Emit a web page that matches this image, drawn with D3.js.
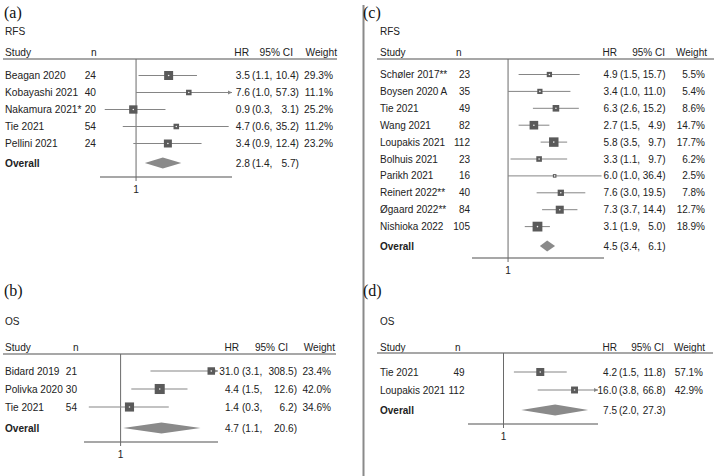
<!DOCTYPE html>
<html><head><meta charset="utf-8">
<script src="https://cdn.jsdelivr.net/npm/d3@7"></script>
<style>body{margin:0;background:#fff}svg{display:block}</style>
</head><body>
<svg id="c" width="714" height="476"></svg>
<script>
// ---------- DATA ----------
const studiesA = ["Beagan 2020","Kobayashi 2021","Nakamura 2021*","Tie 2021","Pellini 2021"];
const nA  = [24,40,20,54,24];
const hrA = [3.5,7.6,0.9,4.7,3.4];
const loA = [1.1,1.0,0.3,0.6,0.9];
const hiA = [10.4,57.3,3.1,35.2,12.4];
const wA  = [29.3,11.1,25.2,11.2,23.2];
const overallA = [2.8,1.4,5.7];

const studiesB = ["Bidard 2019","Polivka 2020","Tie 2021"];
const nB  = [21,30,54];
const hrB = [31.0,4.4,1.4];
const loB = [3.1,1.5,0.3];
const hiB = [308.5,12.6,6.2];
const wB  = [23.4,42.0,34.6];
const overallB = [4.7,1.1,20.6];

const studiesC = ["Schøler 2017**","Boysen 2020 A","Tie 2021","Wang 2021","Loupakis 2021","Bolhuis 2021","Parikh 2021","Reinert 2022**","Øgaard 2022**","Nishioka 2022"];
const nC  = [23,35,49,82,112,23,16,40,84,105];
const hrC = [4.9,3.4,6.3,2.7,5.8,3.3,6.0,7.6,7.3,3.1];
const loC = [1.5,1.0,2.6,1.5,3.5,1.1,1.0,3.0,3.7,1.9];
const hiC = [15.7,11.0,15.2,4.9,9.7,9.7,36.4,19.5,14.4,5.0];
const wC  = [5.5,5.4,8.6,14.7,17.7,6.2,2.5,7.8,12.7,18.9];
const overallC = [4.5,3.4,6.1];

const studiesD = ["Tie 2021","Loupakis 2021"];
const nD  = [49,112];
const hrD = [4.2,16.0];
const loD = [1.5,3.8];
const hiD = [11.8,66.8];
const wD  = [57.1,42.9];
const overallD = [7.5,2.0,27.3];

const panelLabels = ["(a)","(b)","(c)","(d)"];
const outcomes = ["RFS","OS","RFS","OS"];
const headers = ["Study","n","HR","95% CI","Weight"];
const tickValues = [1];
const xDomain = [0.25, 40];

// ---------- LAYOUT ----------
const panels = [
  {data:[studiesA,nA,hrA,loA,hiA,wA,overallA], fs:10.2, labY:12, outY:31, hdrY:52, lineY:59, rowY0:75.5, rowDy:17, ovY:163, axY:177,
   x0:100, W:132, studyX:5, nHdrX:91, nR:96, hrR:250, loL:252, hiR:299, wR:333, hHR:249, hCI:293, hW:337, ulL:3, ulR:337, k:1.66, labX:4},
  {data:[studiesB,nB,hrB,loB,hiB,wB,overallB], fs:10.1, labY:290, outY:321, hdrY:347, lineY:354, rowY0:371, rowDy:18, ovY:428, axY:442,
   x0:84, W:134, studyX:5, nHdrX:73, nR:77, hrR:239, loL:242, hiR:297, wR:331, hHR:239, hCI:288, hW:335, ulL:3, ulR:336, k:1.55, labX:4},
  {data:[studiesC,nC,hrC,loC,hiC,wC,overallC], fs:10, labY:12, outY:31, hdrY:52, lineY:59, rowY0:74.5, rowDy:16.9, ovY:246, axY:258,
   x0:472, W:132, studyX:380, nHdrX:456, nR:470, hrR:617.5, loL:620, hiR:665.5, wR:705, hHR:617, hCI:665, hW:707, ulL:377, ulR:714, k:2.25, labX:363},
  {data:[studiesD,nD,hrD,loD,hiD,wD,overallD], fs:10, labY:290, outY:321, hdrY:347, lineY:353, rowY0:372, rowDy:18, ovY:410, axY:424,
   x0:468, W:130, studyX:380, nHdrX:455, nR:464.5, hrR:617, loL:619, hiR:665.5, wR:703, hHR:617, hCI:664, hW:705, ulL:377, ulR:713, k:1.06, labX:363}
];

const svg = d3.select("#c");
const FONT = "'Liberation Sans', Arial, sans-serif";
const TXT = "#222";

// divider
svg.append("line").attr("x1",363.5).attr("x2",363.5).attr("y1",5).attr("y2",476)
  .attr("stroke","#8a8a8a").attr("stroke-width",2);

panels.forEach((p,pi)=>{
  const [studies,ns,hr,lo,hi,w,ov] = p.data;
  const FS = p.fs;
  const g = svg.append("g");
  const x = d3.scaleLog().domain(xDomain).range([p.x0, p.x0+p.W]).clamp(true);
  const t = (sx,sy,str,anchor,extra)=>{
    const e = g.append("text").attr("x",sx).attr("y",sy).attr("dy","0.35em")
      .attr("font-family",FONT).attr("font-size",FS).attr("fill",TXT)
      .attr("text-anchor",anchor||"start").text(str);
    if(extra) extra(e);
    return e;
  };
  g.append("text").attr("x",p.labX).attr("y",p.labY).attr("dy","0.35em")
    .attr("font-family","'Liberation Serif','Times New Roman',serif").attr("font-size",16)
    .attr("fill","#111").text(panelLabels[pi]);
  t(p.studyX, p.outY, outcomes[pi]);
  t(p.studyX, p.hdrY, headers[0]);
  t(p.nHdrX, p.hdrY, headers[1]);
  t(p.hHR, p.hdrY, headers[2], "end");
  t(p.hCI, p.hdrY, headers[3], "end");
  t(p.hW, p.hdrY, headers[4], "end");
  g.append("line").attr("x1",p.ulL).attr("x2",p.ulR).attr("y1",p.lineY).attr("y2",p.lineY)
    .attr("stroke","#8a8a8a").attr("stroke-width",1.4);

  g.append("line").attr("x1",p.x0).attr("x2",p.x0+p.W).attr("y1",p.axY).attr("y2",p.axY)
    .attr("stroke","#8a8a8a").attr("stroke-width",1.4);
  tickValues.forEach(v=>{
    g.append("line").attr("x1",x(v)).attr("x2",x(v)).attr("y1",p.lineY).attr("y2",p.axY+4)
      .attr("stroke","#6a6a6a").attr("stroke-width",1);
    g.append("text").attr("x",x(v)).attr("y",p.axY+12).attr("dy","0.35em").attr("text-anchor","middle")
      .attr("font-family",FONT).attr("font-size",FS).attr("fill",TXT).text(d3.format("d")(v));
  });

  studies.forEach((s,i)=>{
    const y = p.rowY0 + i*p.rowDy;
    t(p.studyX, y, s);
    t(p.nR, y, ns[i], "end");
    t(p.hrR, y, hr[i].toFixed(1), "end");
    t(p.loL, y, "(" + lo[i].toFixed(1) + ",");
    t(p.hiR, y, hi[i].toFixed(1) + ")", "end");
    t(p.wR, y, w[i].toFixed(1) + "%", "end");
    const xl = x(lo[i]), xh = x(hi[i]);
    g.append("line").attr("x1",xl).attr("x2",xh).attr("y1",y).attr("y2",y)
      .attr("stroke","#858585").attr("stroke-width",1);
    if(hi[i] > xDomain[1]){
      g.append("path").attr("d",`M${xh},${y} l-4,-2 l0,4 Z`).attr("fill","#858585");
    }
    if(lo[i] < xDomain[0]){
      g.append("path").attr("d",`M${xl},${y} l4,-2 l0,4 Z`).attr("fill","#858585");
    }
    const side = p.k*Math.sqrt(w[i]);
    const cx = x(hr[i]);
    g.append("rect").attr("x",cx-side/2).attr("y",y-side/2).attr("width",side).attr("height",side)
      .attr("fill","#5a5a5a");
    g.append("circle").attr("cx",cx).attr("cy",y).attr("r",0.8).attr("fill","#f0f0f0");
  });

  t(p.studyX, p.ovY, "Overall", "start", e=>e.attr("font-weight","bold"));
  t(p.hrR, p.ovY, ov[0].toFixed(1), "end");
  t(p.loL, p.ovY, "(" + ov[1].toFixed(1) + ",");
  t(p.hiR, p.ovY, ov[2].toFixed(1) + ")", "end");
  const dh = 5.6;
  g.append("path").attr("d",`M${x(ov[1])},${p.ovY} L${x(ov[0])},${p.ovY-dh} L${x(ov[2])},${p.ovY} L${x(ov[0])},${p.ovY+dh} Z`)
    .attr("fill","#8a8a8a");
});
</script>
</body></html>
